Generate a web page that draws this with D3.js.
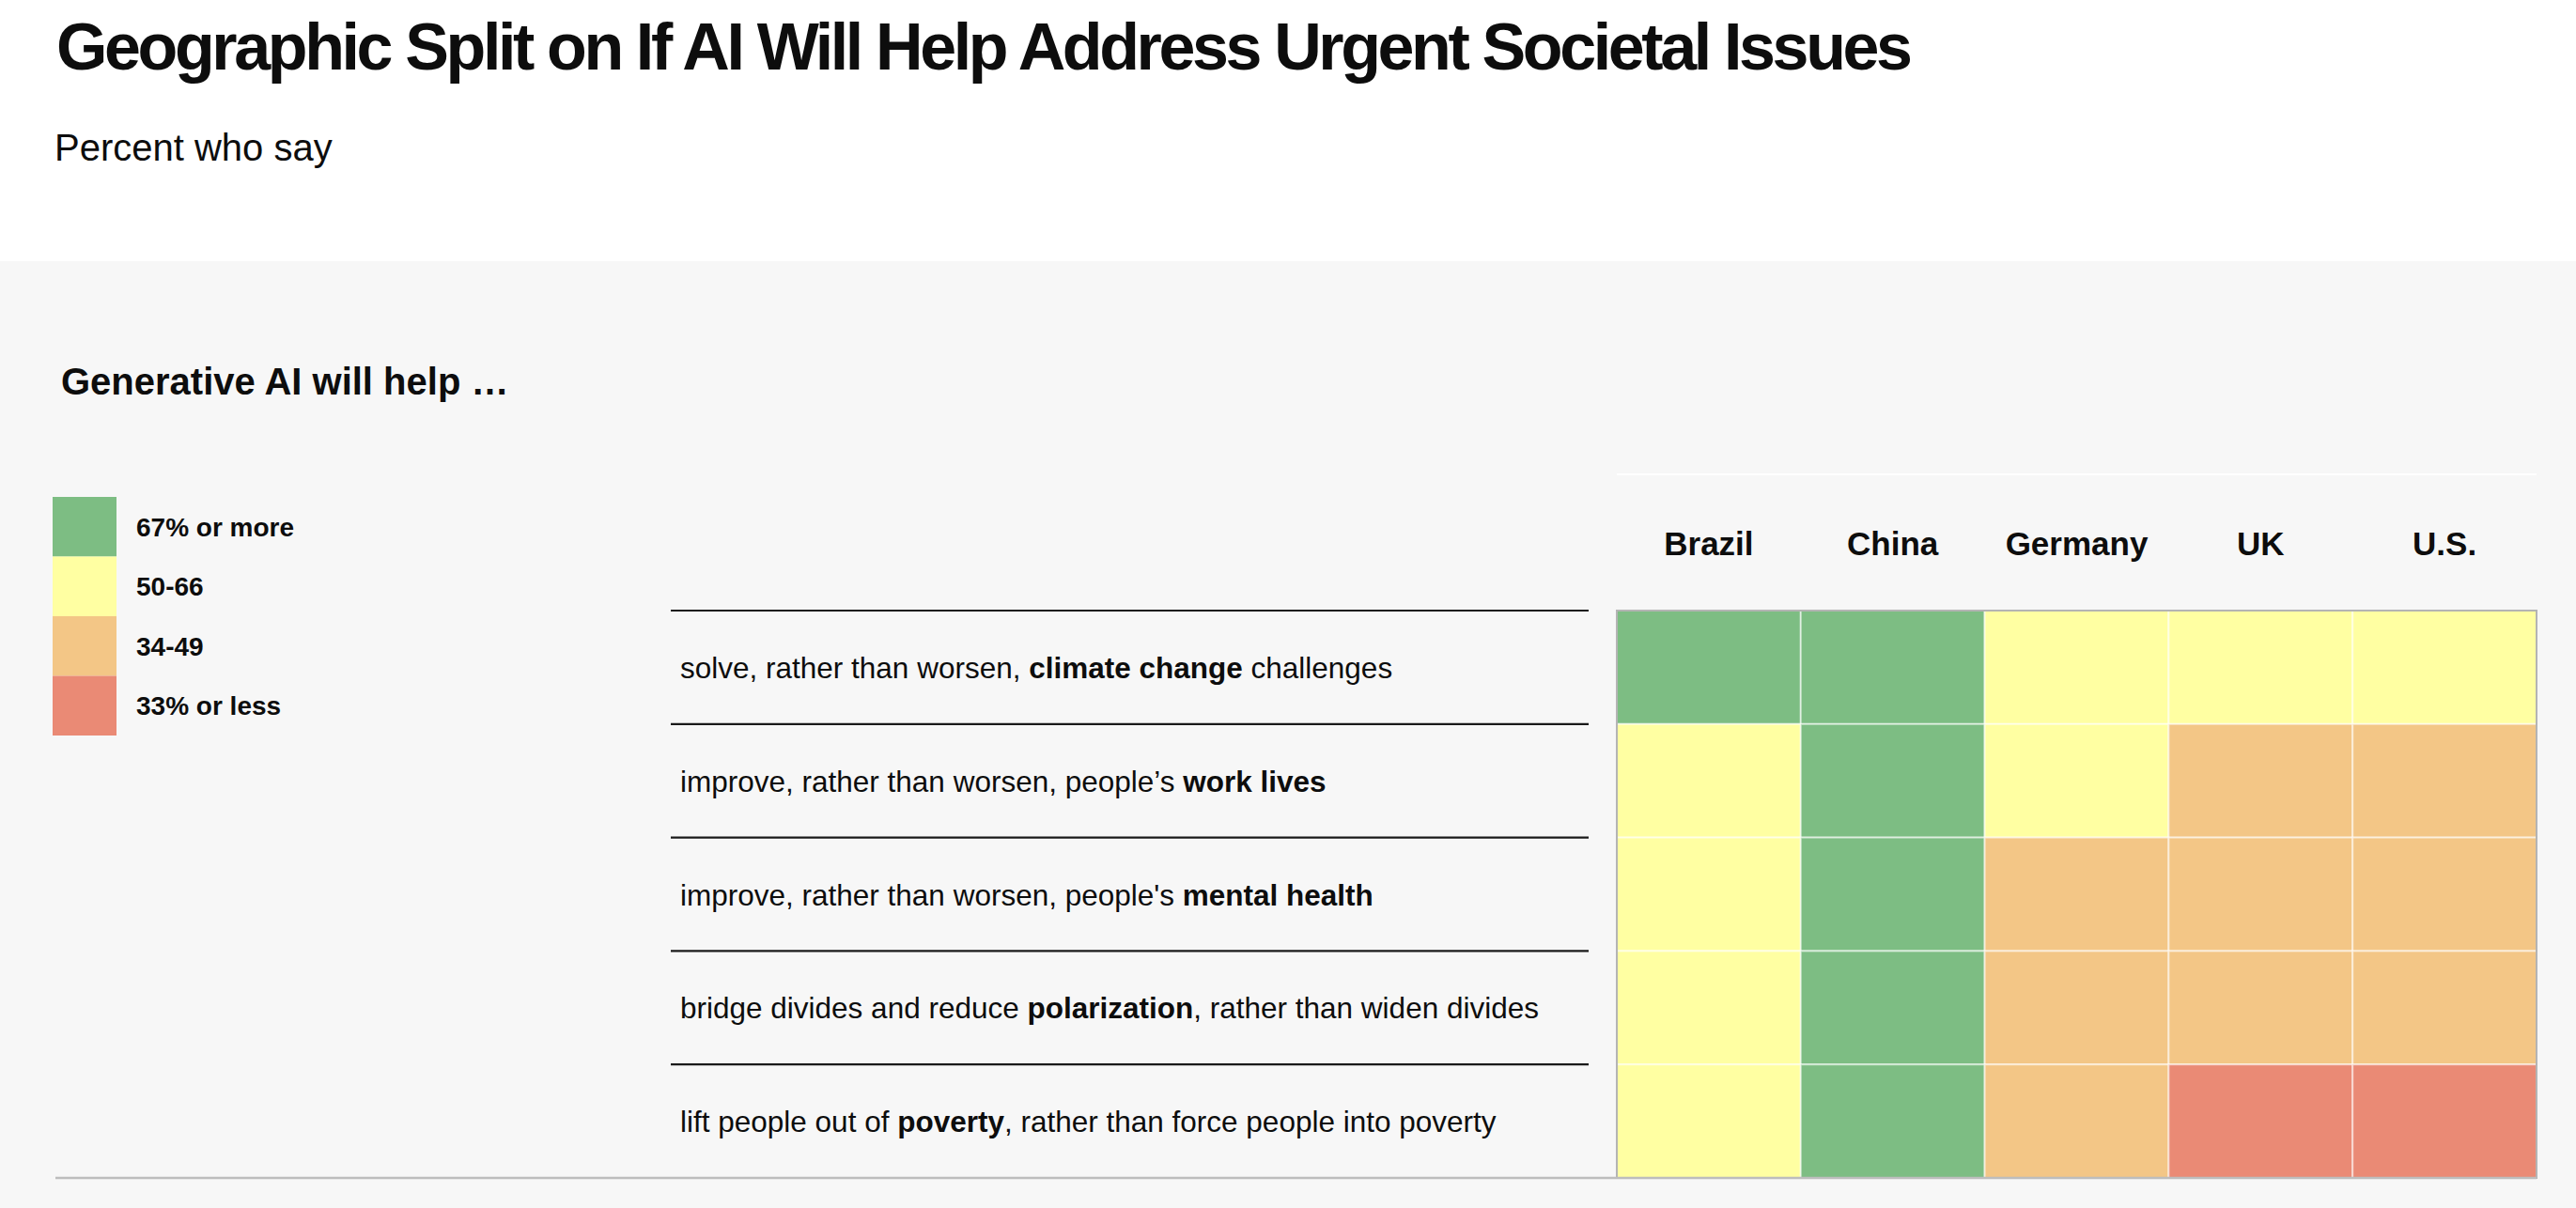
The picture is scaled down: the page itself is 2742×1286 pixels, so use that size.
<!DOCTYPE html>
<html>
<head>
<meta charset="utf-8">
<script src="https://cdn.jsdelivr.net/npm/d3@7"></script>
<style>
  html, body { margin: 0; padding: 0; background: #ffffff; }
  svg { display: block; font-family: "Liberation Sans", Arial, Helvetica, sans-serif; }
</style>
</head>
<body>
<svg id="chart" width="2742" height="1286"></svg>
<script>
// ---------- data ----------
const titleText = "Geographic Split on If AI Will Help Address Urgent Societal Issues";
const subtitleText = "Percent who say";
const sectionText = "Generative AI will help …";

const countries = ["Brazil", "China", "Germany", "UK", "U.S."];

const rowLead = [
  "solve, rather than worsen, ",
  "improve, rather than worsen, people’s ",
  "improve, rather than worsen, people's ",
  "bridge divides and reduce ",
  "lift people out of "
];
const rowBold = ["climate change", "work lives", "mental health", "polarization", "poverty"];
const rowTail = [" challenges", "", "", ", rather than widen divides", ", rather than force people into poverty"];

// estimated percent per row (same order as rows)
const brazil  = [70, 63, 57, 55, 58];
const china   = [78, 79, 74, 72, 76];
const germany = [52, 51, 41, 40, 38];
const uk      = [54, 45, 39, 38, 31];
const us      = [55, 44, 40, 36, 30];

const legendLabels = ["67% or more", "50-66", "34-49", "33% or less"];
const binThresholds = [34, 50, 67];
const binColors = ["#ea8a75", "#f3c686", "#ffffa2", "#7dbd83"]; // low -> high

// ---------- build ----------
const seriesByCountry = [brazil, china, germany, uk, us];
const rowKeys = rowBold.slice();
const cells = [];
rowKeys.forEach((r, i) => {
  countries.forEach((c, j) => cells.push({ row: r, country: c, value: seriesByCountry[j][i] }));
});

const svg = d3.select("#chart");
const W = 2742, H = 1286;

// panel background
svg.append("rect").attr("x", 0).attr("y", 0).attr("width", W).attr("height", H).attr("fill", "#ffffff");
svg.append("rect").attr("x", 0).attr("y", 278).attr("width", W).attr("height", H - 278).attr("fill", "#f7f7f7");

// title
svg.append("text")
  .attr("x", 60).attr("y", 74)
  .attr("font-size", 70).attr("font-weight", "bold").attr("fill", "#0d0d0d")
  .attr("textLength", 1976).attr("lengthAdjust", "spacing")
  .text(titleText);

svg.append("text")
  .attr("x", 58).attr("y", 171)
  .attr("font-size", 40).attr("fill", "#0d0d0d")
  .text(subtitleText);

svg.append("text")
  .attr("x", 65).attr("y", 420)
  .attr("font-size", 40).attr("font-weight", "bold").attr("fill", "#0d0d0d")
  .text(sectionText);

// scales
const x = d3.scaleBand().domain(countries).range([1721, 2700]).padding(0);
const y = d3.scaleBand().domain(rowKeys).range([650, 1254]).padding(0);
const color = d3.scaleThreshold().domain(binThresholds).range(binColors);

// legend
const legendY = d3.scaleBand().domain(legendLabels).range([529, 783]).padding(0);
const legendColor = d3.scaleOrdinal().domain(legendLabels).range(binColors.slice().reverse());
const lg = svg.append("g");
lg.selectAll("rect").data(legendLabels).join("rect")
  .attr("x", 56).attr("y", d => legendY(d))
  .attr("width", 68).attr("height", legendY.bandwidth())
  .attr("fill", d => legendColor(d));
lg.selectAll("text").data(legendLabels).join("text")
  .attr("x", 145).attr("y", d => legendY(d) + legendY.bandwidth() / 2 + 10)
  .attr("font-size", 28).attr("font-weight", "bold").attr("fill", "#0d0d0d")
  .text(d => d);

// header line & column headers
svg.append("line")
  .attr("x1", x.range()[0]).attr("x2", x.range()[1])
  .attr("y1", 505).attr("y2", 505)
  .attr("stroke", "#ffffff").attr("stroke-width", 2);

svg.append("g").selectAll("text").data(countries).join("text")
  .attr("x", d => x(d) + x.bandwidth() / 2).attr("y", 591)
  .attr("text-anchor", "middle")
  .attr("font-size", 35).attr("font-weight", "bold").attr("fill", "#0d0d0d")
  .text(d => d);

// row separator lines
svg.append("g").selectAll("line").data(rowKeys).join("line")
  .attr("x1", 714).attr("x2", 1691)
  .attr("y1", d => y(d)).attr("y2", d => y(d))
  .attr("stroke", "#1a1a1a").attr("stroke-width", 2.2);

// row labels
const rl = svg.append("g").selectAll("text").data(rowKeys).join("text")
  .attr("x", 724).attr("y", d => y(d) + y.bandwidth() / 2 + 11.5)
  .attr("font-size", 31.5).attr("fill", "#0d0d0d");
rl.each(function(d, i) {
  const t = d3.select(this);
  t.append("tspan").text(rowLead[i]);
  t.append("tspan").attr("font-weight", "bold").text(rowBold[i]);
  if (rowTail[i]) t.append("tspan").text(rowTail[i]);
});

// cells
svg.append("g").selectAll("rect").data(cells).join("rect")
  .attr("x", d => x(d.country)).attr("y", d => y(d.row))
  .attr("width", x.bandwidth()).attr("height", y.bandwidth())
  .attr("fill", d => color(d.value))
  .attr("stroke", "rgba(255,255,255,0.55)").attr("stroke-width", 2);

// outer border of grid
svg.append("rect")
  .attr("x", x.range()[0]).attr("y", y.range()[0])
  .attr("width", x.range()[1] - x.range()[0]).attr("height", y.range()[1] - y.range()[0])
  .attr("fill", "none").attr("stroke", "#b4b4b4").attr("stroke-width", 2);

// bottom rule
svg.append("line")
  .attr("x1", 59).attr("x2", x.range()[1])
  .attr("y1", y.range()[1]).attr("y2", y.range()[1])
  .attr("stroke", "#bdbdbd").attr("stroke-width", 2.5);
</script>
</body>
</html>
